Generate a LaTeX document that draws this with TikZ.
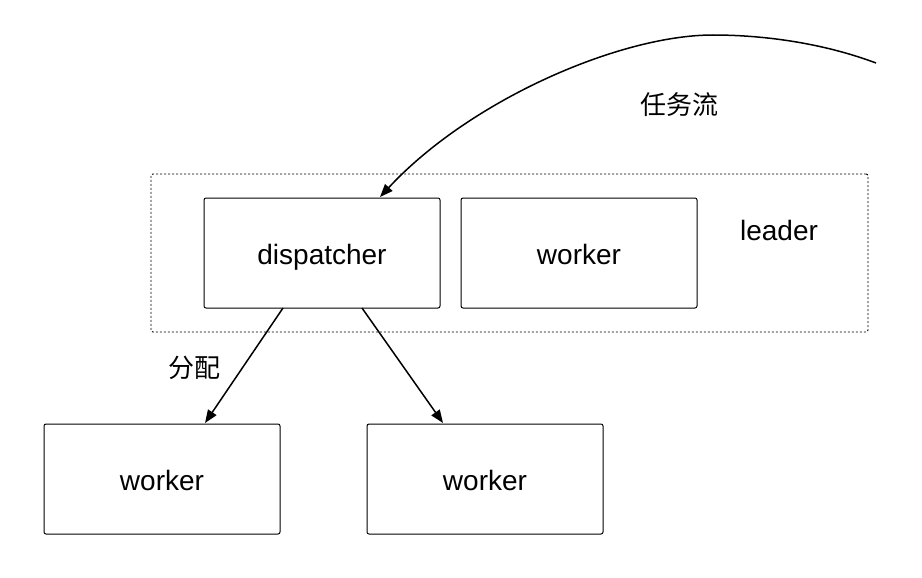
\documentclass[tikz,border=0pt]{standalone}
\usepackage{fontspec}
\setmainfont{Liberation Sans}
\newfontfamily\cjk{Noto Sans CJK SC}
\usetikzlibrary{arrows.meta}
\begin{document}
\begin{tikzpicture}[x=1pt,y=-1pt,
  box/.style={draw, line width=1pt, rounded corners=2pt, minimum width=236pt, minimum height=110pt, inner sep=0pt, text height=22pt, text depth=0pt, font=\fontsize{28}{32}\selectfont},
  grp/.style={draw, line width=0.9pt, dash pattern=on 2pt off 2pt, rounded corners=2pt, minimum width=717pt, minimum height=158pt, inner sep=0pt},
  lbl/.style={inner sep=0pt, font=\fontsize{28}{32}\selectfont},
  cjklbl/.style={inner sep=0pt, font=\cjk\fontsize{26}{30}\selectfont},
  arr/.style={line width=1.5pt, -{Triangle[length=13pt,width=10pt]}}]
\useasboundingbox (0,0) rectangle (922,578);
\node[grp] (leader) at (509.5,253) {};
\node[box] (disp) at (322,253) {dispatcher};
\node[box] (w0) at (579,253) {worker};
\node[box] (w1) at (162,479) {worker};
\node[box] (w2) at (485,479) {worker};
\node[lbl] (lt) at (779,230) {leader};
\node[cjklbl] (flow) at (679,105) {任务流};
\node[cjklbl] (assign) at (194,368) {分配};
\coordinate (src) at (876,63);
\coordinate (peak) at (713,35);
\coordinate (dtop) at (380,197);
\coordinate (dl) at (283,308);
\coordinate (dr) at (362,308);
\coordinate (w1t) at (205,423);
\coordinate (w2t) at (443,423);
\draw[arr] (src) .. controls (820,42) and (760,35) .. (peak)
  .. controls (620,35) and (470,100) .. (dtop);
\draw[arr] (dl) -- (w1t);
\draw[arr] (dr) -- (w2t);
\end{tikzpicture}
\end{document}
